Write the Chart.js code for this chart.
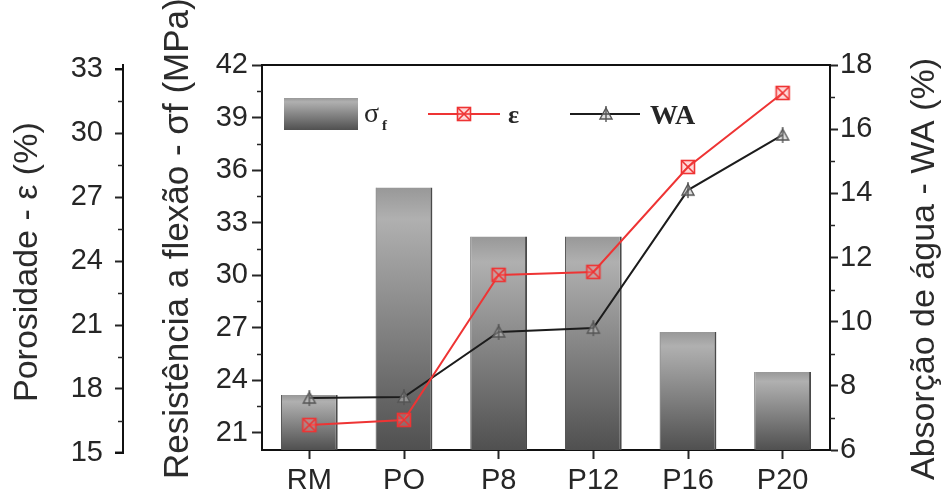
<!DOCTYPE html>
<html>
<head>
<meta charset="utf-8">
<script src="https://cdn.jsdelivr.net/npm/chart.js@4.4.1/dist/chart.umd.min.js"></script>
<style>
    html, body { margin: 0; padding: 0; background: #fff; }
    #wrap { width: 943px; height: 494px; }
</style>
</head>
<body>
<div id="wrap"><canvas id="mainChart" width="943" height="494"></canvas></div>
<script>
const samples = ["RM", "PO", "P8", "P12", "P16", "P20"];
const flexStrength = [23.14, 35.0, 32.2, 32.2, 26.74, 24.46]; // σf (MPa) - bars
const porosity = [16.31, 16.55, 23.35, 23.49, 28.41, 31.88];   // ε (%)
const waterAbs = [7.62, 7.65, 9.68, 9.8, 14.1, 15.82];          // WA (%)

const flexTicks = [21, 24, 27, 30, 33, 36, 39, 42];
const poroTicks = [15, 18, 21, 24, 27, 30, 33];
const waTicks = [6, 8, 10, 12, 14, 16, 18];

const SANS = "'Liberation Sans', Arial, sans-serif";
const SERIF = "'Liberation Serif', 'Times New Roman', serif";
const tickFont = { family: SANS, size: 29 };
const inkColor = "#262626";
const redColor = "#ee3434";
const waColor = "#1c1c1c";

//======================[markers]======================
function makeMarker(kind) {
    const c = document.createElement("canvas");
    c.width = 18;
    c.height = 18;
    const g = c.getContext("2d");
    if (kind === "box") {
        g.strokeStyle = redColor;
        g.lineWidth = 1.6;
        g.fillStyle = "rgba(255,140,140,0.35)";
        g.fillRect(2.5, 2.5, 13, 13);
        g.strokeRect(2.5, 2.5, 13, 13);
        g.beginPath();
        g.moveTo(2.5, 2.5); g.lineTo(15.5, 15.5);
        g.moveTo(15.5, 2.5); g.lineTo(2.5, 15.5);
        g.stroke();
    } else {
        g.strokeStyle = "#555";
        g.lineWidth = 1.4;
        g.fillStyle = "rgba(190,190,190,0.5)";
        g.beginPath();
        g.moveTo(9, 3); g.lineTo(15, 14); g.lineTo(3, 14); g.closePath();
        g.fill();
        g.stroke();
        g.beginPath();
        g.moveTo(9, 1); g.lineTo(9, 17);
        g.stroke();
    }
    return c;
}
const boxMarker = makeMarker("box");
const triMarker = makeMarker("tri");

function barGradient(ctx, top, bottom) {
    const g = ctx.createLinearGradient(0, top, 0, bottom);
    g.addColorStop(0, "#989898");
    g.addColorStop(0.12, "#b0b0b0");
    g.addColorStop(1, "#505050");
    return g;
}

function midpoints(arr) {
    const out = [];
    for (let i = 0; i < arr.length - 1; i++) out.push((arr[i] + arr[i + 1]) / 2);
    return out;
}

//======================[plugins]======================
const frameAndTicks = {
    id: "frameAndTicks",
    afterDraw(chart) {
        const { ctx, chartArea: area, scales } = chart;
        ctx.save();
        ctx.strokeStyle = "#111";
        ctx.lineWidth = 2;
        ctx.beginPath();
        ctx.moveTo(area.left - 1, area.top);
        ctx.lineTo(area.right + 1, area.top);
        ctx.stroke();

        // porosity axis runs a little past the plot box in the figure
        const yE = scales.yE;
        const eTop = yE.getPixelForValue(poroTicks[poroTicks.length - 1]);
        const eBot = yE.getPixelForValue(poroTicks[0]);
        ctx.beginPath();
        ctx.moveTo(yE.right, eTop);
        ctx.lineTo(yE.right, eBot);
        [eTop, eBot].forEach((y) => {
            ctx.moveTo(yE.right + 1, y);
            ctx.lineTo(yE.right - 8, y);
        });
        ctx.stroke();

        // minor ticks
        ctx.lineWidth = 1.5;
        ctx.strokeStyle = inkColor;
        const minor = (scale, values, x, dir) => {
            values.forEach((v) => {
                const y = Math.round(scale.getPixelForValue(v)) + 0.5;
                ctx.beginPath();
                ctx.moveTo(x, y);
                ctx.lineTo(x + dir * 5, y);
                ctx.stroke();
            });
        };
        minor(scales.yS, midpoints(flexTicks), scales.yS.right, -1);
        minor(yE, midpoints(poroTicks), yE.right, -1);
        minor(scales.yW, midpoints(waTicks), scales.yW.left, 1);
        ctx.restore();
    },
};

function drawVTitle(ctx, text, x, yStart, size) {
    ctx.save();
    ctx.translate(x, yStart);
    ctx.rotate(-Math.PI / 2);
    ctx.font = `${size}px ${SANS}`;
    ctx.fillStyle = "#2b2b2b";
    ctx.textAlign = "left";
    ctx.textBaseline = "middle";
    ctx.fillText(text, 0, 0);
    ctx.restore();
}

const axisTitles = {
    id: "axisTitles",
    afterDraw(chart) {
        const ctx = chart.ctx;
        drawVTitle(ctx, "Porosidade - ε (%)", 28, 402, 34);
        drawVTitle(ctx, "Resistência a flexão - σf (MPa)", 178, 479, 35);
        drawVTitle(ctx, "Absorção de água - WA (%)", 925, 480, 34);
    },
};

const figLegend = {
    id: "figLegend",
    afterDraw(chart) {
        const { ctx, chartArea: area } = chart;
        const x0 = area.left;
        const yc = area.top + 49;
        ctx.save();
        // bar swatch
        ctx.fillStyle = barGradient(ctx, yc - 16, yc + 16);
        ctx.fillRect(x0 + 22, yc - 16, 74, 32);
        ctx.fillStyle = inkColor;
        ctx.font = `28px ${SERIF}`;
        ctx.textBaseline = "alphabetic";
        ctx.textAlign = "left";
        ctx.fillText("σ", x0 + 102, yc + 8);
        ctx.font = `bold 15px ${SERIF}`;
        ctx.fillText("f", x0 + 120, yc + 16);

        // ε entry
        ctx.strokeStyle = redColor;
        ctx.lineWidth = 2;
        ctx.beginPath();
        ctx.moveTo(x0 + 166, yc);
        ctx.lineTo(x0 + 238, yc);
        ctx.stroke();
        ctx.drawImage(boxMarker, x0 + 202 - 9, yc - 9);
        ctx.fillStyle = inkColor;
        ctx.font = `bold 26px ${SERIF}`;
        ctx.fillText("ε", x0 + 246, yc + 9);

        // WA entry
        ctx.strokeStyle = waColor;
        ctx.beginPath();
        ctx.moveTo(x0 + 308, yc);
        ctx.lineTo(x0 + 378, yc);
        ctx.stroke();
        ctx.drawImage(triMarker, x0 + 344 - 9, yc - 9);
        ctx.font = `bold 28px ${SERIF}`;
        ctx.fillText("WA", x0 + 388, yc + 10);
        ctx.restore();
    },
};

//======================[chart]======================
const yAxisBase = (extra) => Object.assign({
    grid: { drawOnChartArea: false, tickLength: 9, tickWidth: 2, tickColor: inkColor },
    border: { color: "#111", width: 2 },
    ticks: { font: tickFont, color: inkColor },
}, extra);

new Chart(document.getElementById("mainChart"), {
    data: {
        labels: samples,
        datasets: [
            {
                type: "line",
                label: "ε",
                data: porosity,
                yAxisID: "yE",
                borderColor: redColor,
                borderWidth: 2,
                pointStyle: boxMarker,
                order: 1,
            },
            {
                type: "line",
                label: "WA",
                data: waterAbs,
                yAxisID: "yW",
                borderColor: waColor,
                borderWidth: 2,
                pointStyle: triMarker,
                order: 2,
            },
            {
                type: "bar",
                label: "σf",
                data: flexStrength,
                yAxisID: "yS",
                categoryPercentage: 1,
                barPercentage: 0.6,
                backgroundColor: (c) => {
                    const area = c.chart.chartArea;
                    if (!area || !c.chart.scales.yS) return "#888";
                    const top = c.chart.scales.yS.getPixelForValue(flexStrength[c.dataIndex]);
                    return barGradient(c.chart.ctx, top, area.bottom);
                },
                borderColor: "#4a4a4a",
                borderWidth: { left: 1, right: 2, top: 0, bottom: 0 },
                borderSkipped: false,
                order: 3,
            },
        ],
    },
    options: {
        responsive: false,
        animation: false,
        devicePixelRatio: 1,
        layout: { padding: { top: 65, left: 0, right: 0, bottom: 0 } },
        plugins: { legend: { display: false }, tooltip: { enabled: false } },
        scales: {
            x: {
                type: "category",
                offset: true,
                grid: { offset: false, drawOnChartArea: false, tickLength: 9, tickWidth: 2, tickColor: inkColor },
                border: { color: "#111", width: 2 },
                ticks: { font: tickFont, color: inkColor, padding: 5, maxRotation: 0 },
                afterFit: (s) => { s.height = 44; },
            },
            yS: yAxisBase({
                position: "left",
                weight: 0,
                min: 20,
                max: 42,
                afterBuildTicks: (s) => { s.ticks = flexTicks.map((v) => ({ value: v })); },
                ticks: { font: tickFont, color: inkColor, padding: 4 },
                grid: { drawOnChartArea: false, tickLength: 10, tickWidth: 2, tickColor: inkColor },
                afterFit: (s) => { s.width = 139; },
            }),
            yE: yAxisBase({
                position: "left",
                weight: 1,
                min: 15.14,
                max: 33.19,
                afterBuildTicks: (s) => { s.ticks = poroTicks.map((v) => ({ value: v })); },
                ticks: { font: tickFont, color: inkColor, padding: 12 },
                grid: { drawOnChartArea: false, tickLength: 8, tickWidth: 2, tickColor: inkColor },
                afterFit: (s) => { s.width = 123; },
            }),
            yW: yAxisBase({
                position: "right",
                min: 6,
                max: 18,
                afterBuildTicks: (s) => { s.ticks = waTicks.map((v) => ({ value: v })); },
                ticks: { font: tickFont, color: inkColor, padding: 2 },
                grid: { drawOnChartArea: false, tickLength: 8, tickWidth: 2, tickColor: inkColor },
                afterFit: (s) => { s.width = 113; },
            }),
        },
    },
    plugins: [frameAndTicks, axisTitles, figLegend],
});
</script>
</body>
</html>
